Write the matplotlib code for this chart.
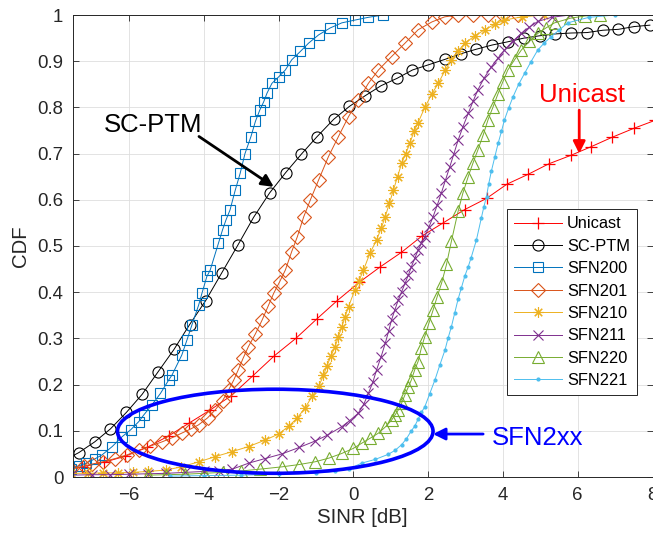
import matplotlib
matplotlib.use("Agg")
import matplotlib.pyplot as plt
from matplotlib.patches import Ellipse

plt.rcParams['font.family'] = ['Liberation Sans', 'DejaVu Sans']

# valeurs (SINR en dB, CDF)
unicast_x = [-7.82, -7.25, -6.67, -6.10, -5.52, -4.94, -4.41, -3.83, -3.27, -2.69, -2.12, -1.54, -0.98,
             -0.43, 0.15, 0.72, 1.28, 1.84, 2.40, 2.98, 3.56, 4.11, 4.67, 5.23, 5.81, 6.36, 6.91, 7.51, 8.07]
unicast_y = [0.015, 0.022, 0.032, 0.045, 0.064, 0.089, 0.116, 0.145, 0.176, 0.219, 0.262, 0.300, 0.342,
             0.382, 0.421, 0.455, 0.486, 0.522, 0.550, 0.579, 0.603, 0.634, 0.655, 0.678, 0.696, 0.715, 0.735, 0.755, 0.772]

scptm_x = [-7.76, -7.34, -6.92, -6.50, -6.07, -5.65, -5.23, -4.80, -4.38, -3.95, -3.52, -3.09, -2.67, -2.24,
           -1.81, -1.39, -0.98, -0.53, -0.11, 0.31, 0.74, 1.17, 1.58, 2.00, 2.45, 2.87, 3.29, 3.71, 4.13,
           4.56, 4.98, 5.39, 5.82, 6.25, 6.67, 7.09, 7.51, 7.93]
scptm_y = [0.035, 0.053, 0.076, 0.104, 0.140, 0.179, 0.227, 0.276, 0.330, 0.382, 0.442, 0.502, 0.562, 0.615,
           0.659, 0.699, 0.736, 0.774, 0.802, 0.825, 0.847, 0.863, 0.881, 0.892, 0.904, 0.916, 0.926, 0.935, 0.942,
           0.950, 0.955, 0.959, 0.961, 0.962, 0.967, 0.969, 0.975, 0.978]

sfn200_x = [-7.55, -7.35, -7.15, -6.92, -6.72, -6.45, -6.19, -5.96, -5.74, -5.61, -5.39, -5.16, -4.94, -4.85,
            -4.59, -4.45, -4.32, -4.14, -4.05, -3.92, -3.83, -3.61, -3.50, -3.41, -3.30, -3.16, -3.03, -2.90,
            -2.74, -2.62, -2.50, -2.40, -2.31, -2.18, -2.00, -1.82, -1.65, -1.42, -1.20, -0.93, -0.62, -0.31,
            0.04, 0.40, 0.80]
sfn200_y = [0.017, 0.024, 0.030, 0.039, 0.048, 0.066, 0.087, 0.102, 0.120, 0.134, 0.156, 0.181, 0.210, 0.221,
            0.264, 0.297, 0.329, 0.372, 0.398, 0.434, 0.448, 0.506, 0.535, 0.556, 0.578, 0.621, 0.657, 0.700,
            0.737, 0.770, 0.795, 0.812, 0.831, 0.852, 0.866, 0.881, 0.903, 0.921, 0.939, 0.957, 0.972, 0.983,
            0.989, 0.995, 1.0]

sfn201_x = [-7.55, -7.20, -6.99, -6.70, -6.37, -6.05, -5.74, -5.43, -5.12, -4.85, -4.59, -4.35, -4.14, -3.90,
            -3.70, -3.50, -3.34, -3.20, -3.08, -2.95, -2.81, -2.62, -2.44, -2.28, -2.13, -1.97, -1.82, -1.65,
            -1.50, -1.33, -1.15, -0.93, -0.67, -0.40, -0.13, 0.13, 0.40, 0.67, 1.02, 1.38, 1.73, 2.10, 2.44,
            2.80, 3.20, 3.60, 4.00, 4.40]
sfn201_y = [0.017, 0.024, 0.028, 0.033, 0.040, 0.048, 0.058, 0.067, 0.076, 0.085, 0.095, 0.104, 0.113, 0.128,
            0.145, 0.165, 0.188, 0.210, 0.232, 0.257, 0.282, 0.310, 0.340, 0.370, 0.398, 0.423, 0.448, 0.488,
            0.520, 0.563, 0.600, 0.643, 0.693, 0.737, 0.780, 0.816, 0.852, 0.881, 0.910, 0.939, 0.968, 0.985, 0.996,
            1.0, 1.0, 1.0, 1.0, 1.0]

sfn210_x = [-7.55, -7.10, -6.70, -6.30, -5.90, -5.50, -5.02, -4.60, -4.13, -3.70, -3.24, -2.80, -2.36, -2.00,
            -1.73, -1.50, -1.29, -1.10, -0.93, -0.80, -0.71, -0.60, -0.49, -0.40, -0.31, -0.22, -0.13, 0.04,
            0.15, 0.27, 0.44, 0.62, 0.75, 0.85, 0.96, 1.07, 1.18, 1.29, 1.40, 1.51, 1.62, 1.73, 1.91, 2.09,
            2.27, 2.45, 2.62, 2.80, 2.98, 3.25, 3.51, 3.78, 4.04, 4.50, 5.10]
sfn210_y = [0.008, 0.008, 0.009, 0.009, 0.010, 0.012, 0.015, 0.022, 0.033, 0.044, 0.055, 0.066, 0.080, 0.093,
            0.110, 0.128, 0.150, 0.175, 0.196, 0.220, 0.240, 0.262, 0.282, 0.304, 0.325, 0.347, 0.369, 0.405,
            0.425, 0.448, 0.484, 0.513, 0.540, 0.563, 0.592, 0.621, 0.650, 0.679, 0.700, 0.722, 0.748, 0.767,
            0.800, 0.828, 0.852, 0.880, 0.903, 0.922, 0.939, 0.955, 0.968, 0.980, 0.989, 0.996, 1.0]

sfn211_x = [-7.55, -7.00, -6.50, -6.00, -5.50, -5.00, -4.50, -4.00, -3.60, -3.24, -2.80, -2.36, -1.91, -1.45,
            -1.02, -0.71, -0.31, -0.10, 0.13, 0.28, 0.40, 0.52, 0.62, 0.74, 0.85, 0.94, 1.02, 1.11, 1.20, 1.29,
            1.38, 1.47, 1.55, 1.64, 1.73, 1.82, 1.91, 2.02, 2.13, 2.24, 2.35, 2.46, 2.58, 2.69, 2.80, 2.93,
            3.07, 3.20, 3.33, 3.50, 3.69, 3.86, 4.04, 4.26, 4.49, 4.71, 4.93, 5.30, 5.80]
sfn211_y = [0.004, 0.005, 0.005, 0.006, 0.007, 0.008, 0.010, 0.012, 0.014, 0.017, 0.030, 0.040, 0.050, 0.064,
            0.078, 0.090, 0.109, 0.122, 0.138, 0.158, 0.181, 0.205, 0.232, 0.260, 0.289, 0.315, 0.340, 0.362,
            0.383, 0.401, 0.419, 0.437, 0.455, 0.473, 0.491, 0.506, 0.520, 0.541, 0.563, 0.588, 0.614, 0.642,
            0.672, 0.700, 0.729, 0.758, 0.787, 0.813, 0.838, 0.864, 0.888, 0.906, 0.924, 0.943, 0.960, 0.974,
            0.986, 0.995, 1.0]

sfn220_x = [-5.50, -5.00, -4.50, -4.00, -3.50, -3.00, -2.50, -1.91, -1.45, -1.02, -0.65, -0.31, 0.00, 0.22,
            0.45, 0.67, 0.85, 1.02, 1.12, 1.20, 1.29, 1.38, 1.47, 1.55, 1.64, 1.73, 1.82, 1.91, 2.02, 2.13,
            2.24, 2.36, 2.49, 2.62, 2.80, 2.93, 3.07, 3.20, 3.33, 3.47, 3.60, 3.73, 3.87, 4.00, 4.13, 4.31,
            4.49, 4.71, 4.93, 5.15, 5.38, 5.80, 6.20, 6.60]
sfn220_y = [0.004, 0.005, 0.006, 0.008, 0.010, 0.013, 0.017, 0.022, 0.027, 0.033, 0.041, 0.051, 0.062, 0.073,
            0.084, 0.095, 0.108, 0.123, 0.135, 0.145, 0.160, 0.178, 0.195, 0.210, 0.232, 0.250, 0.280, 0.304,
            0.333, 0.361, 0.390, 0.420, 0.460, 0.510, 0.575, 0.615, 0.650, 0.680, 0.708, 0.740, 0.773, 0.800,
            0.830, 0.856, 0.881, 0.903, 0.924, 0.943, 0.960, 0.972, 0.983, 0.993, 0.998, 1.0]

sfn221_x = [-4.90, -4.00, -3.00, -2.00, -1.00, -0.50, -0.13, 0.22, 0.58, 0.93, 1.12, 1.29, 1.42, 1.55, 1.64,
            1.73, 1.82, 1.91, 2.04, 2.18, 2.31, 2.45, 2.53, 2.62, 2.71, 2.80, 2.89, 2.98, 3.07, 3.15, 3.29,
            3.42, 3.49, 3.56, 3.62, 3.69, 3.78, 3.87, 3.96, 4.04, 4.15, 4.27, 4.42, 4.58, 4.75, 4.93, 5.11,
            5.29, 5.51, 5.73, 6.30, 7.00]
sfn221_y = [0.002, 0.003, 0.004, 0.006, 0.009, 0.012, 0.017, 0.030, 0.038, 0.049, 0.058, 0.070, 0.083, 0.100,
            0.110, 0.125, 0.140, 0.152, 0.180, 0.210, 0.242, 0.275, 0.300, 0.325, 0.355, 0.385, 0.410, 0.435,
            0.455, 0.475, 0.513, 0.560, 0.585, 0.607, 0.635, 0.662, 0.692, 0.722, 0.748, 0.773, 0.798, 0.823,
            0.850, 0.874, 0.899, 0.924, 0.940, 0.953, 0.968, 0.983, 0.995, 1.0]

x_ticks = [-6, -4, -2, 0, 2, 4, 6, 8]
y_ticks = [0, 0.1, 0.2, 0.3, 0.4, 0.5, 0.6, 0.7, 0.8, 0.9, 1]
y_tick_labels = ['0', '0.1', '0.2', '0.3', '0.4', '0.5', '0.6', '0.7', '0.8', '0.9', '1']

gris = '#262626'

fig = plt.figure(figsize=(6.53, 5.34), dpi=100)
ax = fig.add_axes([73/653, 57/534, 579.5/653, 462/534])

ax.plot(unicast_x, unicast_y, color='#FF0000', lw=0.7, marker='+', ms=8, mew=0.9, label='Unicast')
ax.plot(scptm_x, scptm_y, color='black', lw=0.7, marker='o', ms=8, mfc='none', mew=0.8, label='SC-PTM')
ax.plot(sfn200_x, sfn200_y, color='#0072BD', lw=0.7, marker='s', ms=6.5, mfc='none', mew=0.8, label='SFN200')
ax.plot(sfn201_x, sfn201_y, color='#D95319', lw=0.7, marker='D', ms=7, mfc='none', mew=0.8, label='SFN201')
ax.plot(sfn210_x, sfn210_y, color='#EDB120', lw=0.7, marker=(8, 2, 0), ms=7.5, mew=0.8, label='SFN210')
ax.plot(sfn211_x, sfn211_y, color='#7E2F8E', lw=0.7, marker='x', ms=6.5, mew=0.8, label='SFN211')
ax.plot(sfn220_x, sfn220_y, color='#77AC30', lw=0.7, marker='^', ms=8.5, mfc='none', mew=0.8, label='SFN220')
ax.plot(sfn221_x, sfn221_y, color='#4DBEEE', lw=0.7, marker='.', ms=4, label='SFN221')

# annotations
ax.add_patch(Ellipse((-2.09, 0.099), 8.44, 0.182, fill=False, edgecolor='#0000FF', lw=2.6, zorder=5))
ax.annotate('', xy=(2.13, 0.093), xytext=(3.47, 0.093),
            arrowprops=dict(arrowstyle='-|>', color='#0000FF', lw=2, mutation_scale=18, shrinkA=0, shrinkB=0), zorder=5)
ax.text(3.71, 0.0686, 'SFN2xx', color='#0000FF', fontsize=18.5, ha='left', va='baseline')
ax.annotate('', xy=(-2.13, 0.628), xytext=(-4.13, 0.737),
            arrowprops=dict(arrowstyle='-|>', color='black', lw=2, mutation_scale=18, shrinkA=0, shrinkB=0), zorder=5)
ax.text(-6.67, 0.747, 'SC-PTM', color='black', fontsize=18.5, ha='left', va='baseline')
ax.annotate('', xy=(6.04, 0.700), xytext=(6.04, 0.794),
            arrowprops=dict(arrowstyle='-|>', color='#FF0000', lw=2, mutation_scale=18, shrinkA=0, shrinkB=0), zorder=5)
ax.text(6.11, 0.812, 'Unicast', color='#FF0000', fontsize=18.5, ha='center', va='baseline')

ax.set_xlim(-7.5, 8)
ax.set_ylim(0, 1)
ax.set_xticks(x_ticks)
ax.set_yticks(y_ticks)
ax.set_yticklabels(y_tick_labels)
ax.grid(True, color='#DEDEDE', lw=0.6)
ax.set_axisbelow(True)
ax.tick_params(direction='in', top=True, right=True, length=4, width=0.6, color=gris,
               labelcolor=gris, labelsize=13.4, pad=7)
for s in ax.spines.values():
    s.set_color(gris)
    s.set_linewidth(0.7)
ax.set_xlabel('SINR [dB]', fontsize=14.7, color=gris, labelpad=3)
ax.set_ylabel('CDF', fontsize=14.7, color=gris, labelpad=5)

leg = ax.legend(loc='upper right', bbox_to_anchor=(0.9736, 0.580), borderaxespad=0, fontsize=11.8,
                fancybox=False, framealpha=1, edgecolor=gris, handlelength=2.9, handletextpad=0.3,
                labelspacing=0.45, borderpad=0.45)
leg.get_frame().set_linewidth(0.7)
leg.set_zorder(10)

fig.savefig('out.png', dpi=100)
